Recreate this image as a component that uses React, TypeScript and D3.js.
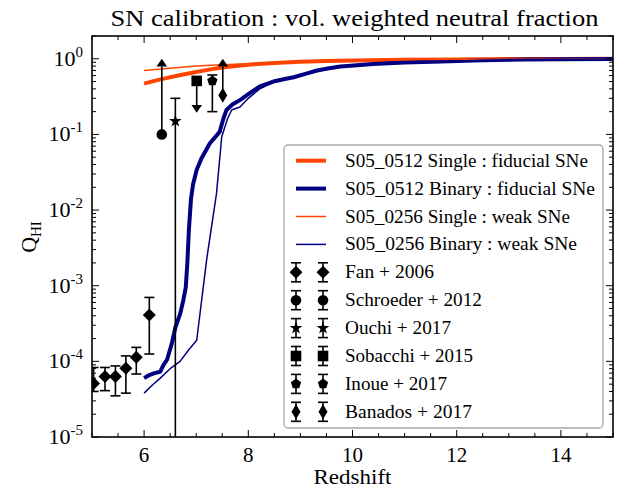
import React from "react";
import * as d3 from "d3";

// ---------- data ----------
const zSingleFid = [6.0, 6.2, 6.4, 6.7, 7.0, 7.3, 7.66, 8.05, 8.5, 9.0, 9.5, 10.0, 11.0, 12.0, 13.0, 14.0, 15.0];
const qSingleFid = [0.47, 0.51, 0.55, 0.61, 0.67, 0.73, 0.79, 0.84, 0.88, 0.91, 0.935, 0.95, 0.97, 0.98, 0.99, 0.995, 1.0];

const zBinaryFid = [6.0, 6.1, 6.2, 6.31, 6.37, 6.44, 6.53, 6.6, 6.69, 6.75, 6.8, 6.83, 6.86, 6.9, 6.94, 7.01, 7.1, 7.26, 7.45, 7.52, 7.58, 7.7, 7.84, 8.0, 8.22, 8.48, 8.7, 8.87, 9.13, 9.32, 9.55, 9.77, 10.4, 11.0, 11.7, 12.5, 13.3, 14.0, 15.0];
const qBinaryFid = [6.0e-5, 6.6e-5, 7.0e-5, 7.3e-5, 8.9e-5, 1.05e-4, 1.7e-4, 2.8e-4, 4.2e-4, 6.3e-4, 9.5e-4, 2.0e-3, 5.5e-3, 1.4e-2, 2.2e-2, 3.4e-2, 4.8e-2, 7.6e-2, 0.108, 0.16, 0.21, 0.25, 0.284, 0.34, 0.43, 0.5, 0.54, 0.57, 0.64, 0.7, 0.75, 0.79, 0.85, 0.89, 0.92, 0.955, 0.975, 0.985, 0.99];

const zSingleWeak = [6.0, 6.5, 7.0, 7.5, 8.0, 8.5, 9.0, 9.5, 10.0, 11.0, 12.0, 13.0, 14.0, 15.0];
const qSingleWeak = [0.7, 0.75, 0.8, 0.835, 0.86, 0.89, 0.915, 0.935, 0.955, 0.97, 0.985, 0.99, 0.995, 1.0];

const zBinaryWeak = [6.0, 6.15, 6.31, 6.5, 6.69, 6.85, 7.01, 7.2, 7.39, 7.49, 7.6, 7.68, 7.84, 8.0, 8.22, 8.48, 8.7, 8.87, 9.13, 9.32, 9.55, 9.77, 10.4, 11.0, 11.7, 12.5, 13.3, 14.0, 15.0];
const qBinaryWeak = [3.8e-5, 4.8e-5, 6.0e-5, 8.0e-5, 1.0e-4, 1.4e-4, 1.9e-4, 2.2e-3, 1.66e-2, 9.3e-2, 0.16, 0.21, 0.23, 0.3, 0.4, 0.49, 0.54, 0.57, 0.64, 0.69, 0.75, 0.79, 0.85, 0.89, 0.92, 0.955, 0.975, 0.985, 0.99];

// observations
const fanZ = [5.03, 5.25, 5.45, 5.65, 5.85, 6.1];
const fanQ = [5.1e-5, 6.3e-5, 6.3e-5, 8.1e-5, 1.13e-4, 4.1e-4];
const fanLo = [4.0e-5, 4.1e-5, 3.5e-5, 3.8e-5, 6.8e-5, 1.25e-4];
const fanHi = [8.3e-5, 8.3e-5, 8.7e-5, 1.18e-4, 1.53e-4, 7.0e-4];

const schroederZ = [6.34];
const schroederQ = [0.1];
const schroederUp = [0.79]; // lower limit arrow end

const ouchiZ = [6.6];
const ouchiQ = [0.15];
const ouchiLo = [1e-9];
const ouchiHi = [0.3];

const sobacchiZ = [7.01];
const sobacchiQ = [0.51];
const sobacchiDown = [0.245]; // upper limit arrow end

const inoueZ = [7.31];
const inoueQ = [0.51];
const inoueLo = [0.2];
const inoueHi = [0.61];

const banadosZ = [7.51];
const banadosQ = [0.33];
const banadosUp = [0.79];

const xTicks = [6, 8, 10, 12, 14];
const yTickExps = [0, -1, -2, -3, -4, -5];

const legendLines = [
  { label: "S05_0512 Single : fiducial SNe", color: "#ff4500", width: 4, tl: 243 },
  { label: "S05_0512 Binary : fiducial SNe", color: "#000080", width: 4, tl: 250 },
  { label: "S05_0256 Single : weak SNe", color: "#ff4500", width: 1.5, tl: 225 },
  { label: "S05_0256 Binary : weak SNe", color: "#000080", width: 1.5, tl: 232 },
];
const legendMarkers = [
  { label: "Fan + 2006", marker: "D", tl: 89 },
  { label: "Schroeder + 2012", marker: "o", tl: 137 },
  { label: "Ouchi + 2017", marker: "*", tl: 106 },
  { label: "Sobacchi + 2015", marker: "s", tl: 128 },
  { label: "Inoue + 2017", marker: "p", tl: 102 },
  { label: "Banados + 2017", marker: "d", tl: 127 },
];

// ---------- layout ----------
const W = 625, H = 493;
const L = 92, R = 613, T = 36, B = 437;
const FONT = "Liberation Serif";
const fs = (size: number) => ({ fontFamily: FONT, fontSize: size });

function markerPath(m: string): string {
  switch (m) {
    case "D": { const s = 6.5; return `M0,${-s}L${s},0L0,${s}L${-s},0Z`; }
    case "d": { const h = 7.5, w = 4.5; return `M0,${-h}L${w},0L0,${h}L${-w},0Z`; }
    case "o": return d3.symbol(d3.symbolCircle, Math.PI * 5.3 * 5.3)()!;
    case "s": { const s = 5.3; return `M${-s},${-s}H${s}V${s}H${-s}Z`; }
    case "*": return d3.symbol(d3.symbolStar, 50)()!;
    case "p": {
      const r = 5.4;
      const pts = d3.range(5).map((i) => {
        const a = -Math.PI / 2 + (i * 2 * Math.PI) / 5;
        return [r * Math.cos(a), r * Math.sin(a)];
      });
      return "M" + pts.map((p) => p.join(",")).join("L") + "Z";
    }
  }
  return "";
}
const caretUp = "M-5.3,0L5.3,0L0,-7.7Z";
const caretDown = "M-5.3,0L5.3,0L0,7.7Z";

export default function App() {
  const x = d3.scaleLinear().domain([5, 15]).range([L, R]);
  const y = d3.scaleLog().domain([1e-5, 2]).range([B, T]);
  const line = (zs: number[], qs: number[]) =>
    d3.line<number>().x((_, i) => x(zs[i])).y((_, i) => y(qs[i]))(zs)!;

  const xMinor = d3.range(5, 15.001, 0.5).filter((v) => !xTicks.includes(v));
  const yMinor: number[] = [];
  for (let e = -5; e <= 0; e++) for (let k = 2; k <= 9; k++) { const v = k * Math.pow(10, e); if (v <= 2) yMinor.push(v); }

  const errBar = (xx: number, y0: number, y1: number, cap = true, key = "") => (
    <g key={key}>
      <line x1={xx} x2={xx} y1={y0} y2={y1} stroke="#000" strokeWidth={1.6} />
      {cap && <line x1={xx - 5} x2={xx + 5} y1={y0} y2={y0} stroke="#000" strokeWidth={1.6} />}
      {cap && <line x1={xx - 5} x2={xx + 5} y1={y1} y2={y1} stroke="#000" strokeWidth={1.6} />}
    </g>
  );

  const lgX = 284, lgY = 145, lgW = 319, lgH = 283;
  const rowY = (i: number) => 160.7 + i * 27.9;

  return (
    <svg width={W} height={H} style={{ position: "absolute", left: 0, top: 0, background: "#fff" }}>
      <defs>
        <clipPath id="plot"><rect x={L} y={T} width={R - L} height={B - T} /></clipPath>
      </defs>
      <rect x={0} y={0} width={W} height={H} fill="#fff" />

      <g clipPath="url(#plot)">
        <path d={line(zSingleFid, qSingleFid)} fill="none" stroke="#ff4500" strokeWidth={4} strokeLinejoin="round" />
        <path d={line(zBinaryFid, qBinaryFid)} fill="none" stroke="#000080" strokeWidth={4} strokeLinejoin="round" />
        <path d={line(zSingleWeak, qSingleWeak)} fill="none" stroke="#ff4500" strokeWidth={1.5} strokeLinejoin="round" />
        <path d={line(zBinaryWeak, qBinaryWeak)} fill="none" stroke="#000080" strokeWidth={1.5} strokeLinejoin="round" />

        {fanZ.map((z, i) => (
          <g key={"fan" + i}>
            {errBar(x(z), y(fanLo[i]), y(fanHi[i]), true, "fe" + i)}
            <path d={markerPath("D")} transform={`translate(${x(z)},${y(fanQ[i])})`} fill="#000" />
          </g>
        ))}
        {schroederZ.map((z, i) => (
          <g key={"sch" + i}>
            <line x1={x(z)} x2={x(z)} y1={y(schroederQ[i])} y2={y(schroederUp[i])} stroke="#000" strokeWidth={1.6} />
            <path d={caretUp} transform={`translate(${x(z)},${y(schroederUp[i])})`} fill="#000" />
            <path d={markerPath("o")} transform={`translate(${x(z)},${y(schroederQ[i])})`} fill="#000" />
          </g>
        ))}
        {ouchiZ.map((z, i) => (
          <g key={"ou" + i}>
            <line x1={x(z)} x2={x(z)} y1={y(ouchiLo[i])} y2={y(ouchiHi[i])} stroke="#000" strokeWidth={1.6} />
            <line x1={x(z) - 5} x2={x(z) + 5} y1={y(ouchiHi[i])} y2={y(ouchiHi[i])} stroke="#000" strokeWidth={1.6} />
            <path d={markerPath("*")} transform={`translate(${x(z)},${y(ouchiQ[i])})`} fill="#000" />
          </g>
        ))}
        {sobacchiZ.map((z, i) => (
          <g key={"sob" + i}>
            <line x1={x(z)} x2={x(z)} y1={y(sobacchiQ[i])} y2={y(sobacchiDown[i])} stroke="#000" strokeWidth={1.6} />
            <path d={caretDown} transform={`translate(${x(z)},${y(sobacchiDown[i])})`} fill="#000" />
            <path d={markerPath("s")} transform={`translate(${x(z)},${y(sobacchiQ[i])})`} fill="#000" />
          </g>
        ))}
        {inoueZ.map((z, i) => (
          <g key={"ino" + i}>
            {errBar(x(z), y(inoueLo[i]), y(inoueHi[i]), true, "ie" + i)}
            <path d={markerPath("p")} transform={`translate(${x(z)},${y(inoueQ[i])})`} fill="#000" />
          </g>
        ))}
        {banadosZ.map((z, i) => (
          <g key={"ban" + i}>
            <line x1={x(z)} x2={x(z)} y1={y(banadosQ[i])} y2={y(banadosUp[i])} stroke="#000" strokeWidth={1.6} />
            <path d={caretUp} transform={`translate(${x(z)},${y(banadosUp[i])})`} fill="#000" />
            <path d={markerPath("d")} transform={`translate(${x(z)},${y(banadosQ[i])})`} fill="#000" />
          </g>
        ))}
      </g>

      {/* ticks */}
      <g stroke="#000" strokeWidth={1}>
        {xTicks.map((t) => (
          <g key={"xt" + t}>
            <line x1={x(t)} x2={x(t)} y1={B} y2={B - 7} />
            <line x1={x(t)} x2={x(t)} y1={T} y2={T + 7} />
          </g>
        ))}
        {xMinor.map((t) => (
          <g key={"xm" + t}>
            <line x1={x(t)} x2={x(t)} y1={B} y2={B - 4} />
            <line x1={x(t)} x2={x(t)} y1={T} y2={T + 4} />
          </g>
        ))}
        {yTickExps.map((e) => (
          <g key={"yt" + e}>
            <line x1={L} x2={L + 7} y1={y(Math.pow(10, e))} y2={y(Math.pow(10, e))} />
            <line x1={R} x2={R - 7} y1={y(Math.pow(10, e))} y2={y(Math.pow(10, e))} />
          </g>
        ))}
        {yMinor.map((v, i) => (
          <g key={"ym" + i}>
            <line x1={L} x2={L + 4} y1={y(v)} y2={y(v)} />
            <line x1={R} x2={R - 4} y1={y(v)} y2={y(v)} />
          </g>
        ))}
      </g>
      <rect x={L} y={T} width={R - L} height={B - T} fill="none" stroke="#000" strokeWidth={1.6} />

      {/* tick labels */}
      {xTicks.map((t) => (
        <text key={"xl" + t} x={x(t)} y={462} textAnchor="middle" style={fs(21)}>{t}</text>
      ))}
      {yTickExps.map((e) => (
        <text key={"yl" + e} x={83} y={y(Math.pow(10, e)) + 7} textAnchor="end" style={fs(22)}>
          10<tspan dy={-9} style={fs(15)}>{e}</tspan>
        </text>
      ))}

      {/* axis labels & title */}
      <text x={(L + R) / 2} y={484} textAnchor="middle" style={fs(21)} textLength={78} lengthAdjust="spacingAndGlyphs">Redshift</text>
      <text transform={`translate(36,237) rotate(-90)`} textAnchor="middle" style={fs(22)}>
        Q<tspan dy={5} style={fs(15)}>HI</tspan>
      </text>
      <text x={(L + R) / 2 + 2} y={26} textAnchor="middle" style={fs(23)} textLength={488} lengthAdjust="spacingAndGlyphs">
        SN calibration : vol. weighted neutral fraction
      </text>

      {/* legend */}
      <rect x={lgX} y={lgY} width={lgW} height={lgH} rx={4} fill="#fff" fillOpacity={0.85} stroke="#a8a8a8" strokeWidth={1.3} />
      {legendLines.map((d, i) => (
        <g key={"ll" + i}>
          <line x1={296} x2={326} y1={rowY(i)} y2={rowY(i)} stroke={d.color} strokeWidth={d.width} />
          <text x={345} y={rowY(i) + 6} style={fs(18)} textLength={d.tl} lengthAdjust="spacingAndGlyphs">{d.label}</text>
        </g>
      ))}
      {legendMarkers.map((d, j) => {
        const i = j + 4;
        const cy = rowY(i);
        return (
          <g key={"lm" + j}>
            {[296, 323].map((cx) => (
              <g key={cx}>
                {errBar(cx, cy - 9.5, cy + 9.5, true, "le" + cx)}
                <path d={markerPath(d.marker)} transform={`translate(${cx},${cy})`} fill="#000" />
              </g>
            ))}
            <text x={345} y={cy + 6} style={fs(18)} textLength={d.tl} lengthAdjust="spacingAndGlyphs">{d.label}</text>
          </g>
        );
      })}
    </svg>
  );
}
